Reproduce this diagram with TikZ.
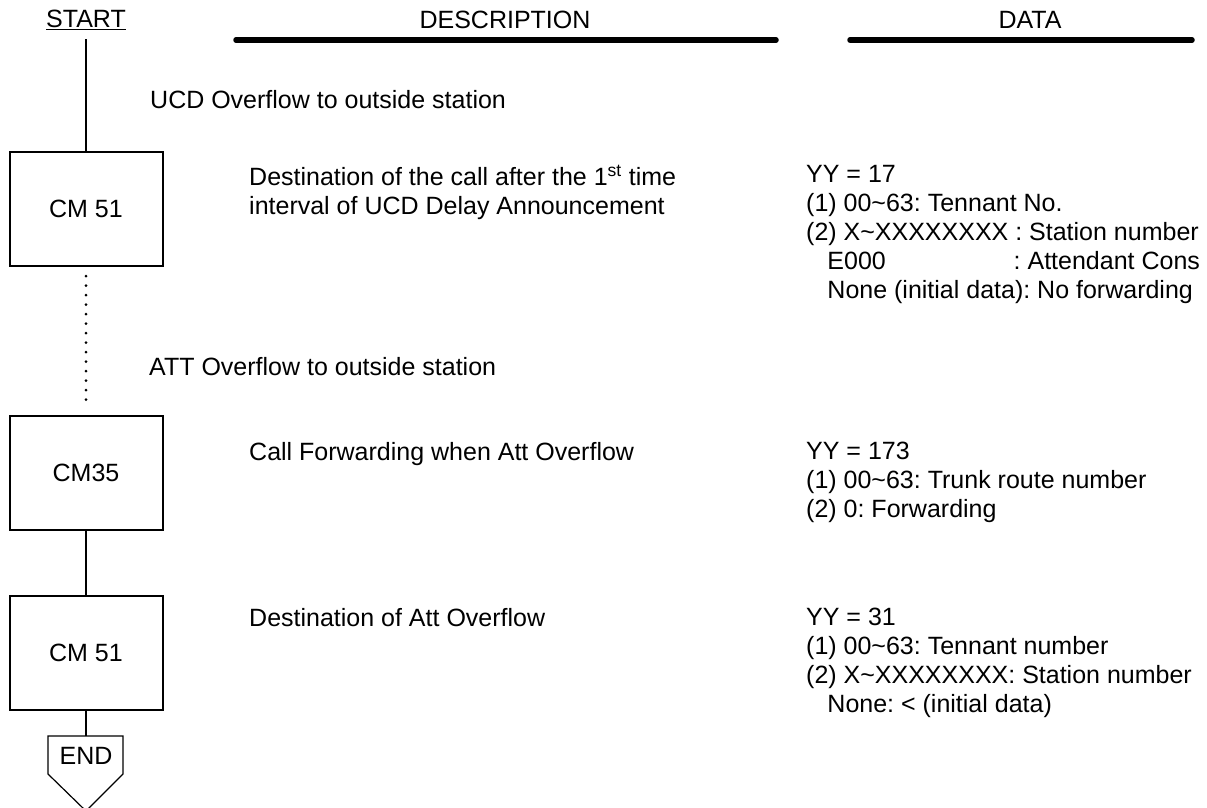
\documentclass[tikz,border=0pt]{standalone}
\usepackage{fontspec}
\setmainfont{Liberation Sans}
\begin{document}
\frenchspacing
\begin{tikzpicture}[x=1pt,y=-1pt,
  txt/.style={anchor=north west,inner sep=0pt,font=\fontsize{25}{29}\selectfont,align=left},
  hdr/.style={inner sep=0pt,font=\fontsize{25}{29}\selectfont},
  cmbox/.style={draw,line width=2pt,minimum width=153pt,minimum height=114pt,inner sep=0pt,font=\fontsize{25}{29}\selectfont},
  conn/.style={line width=2pt},
  dotline/.style={line width=3pt,line cap=round,dash pattern=on 0pt off 9.5pt},
  thick rule/.style={line width=5.5pt,line cap=round}]
\useasboundingbox (0,0) rectangle (1207,807);
% headers
\node[hdr] (start) at (86,20) {\underline{START}};
\node[hdr] (desc) at (505,20) {DESCRIPTION};
\node[hdr] (data) at (1030,20) {DATA};
\coordinate (d1) at (236,40); \coordinate (d2) at (776,40);
\coordinate (e1) at (850,40); \coordinate (e2) at (1192,40);
\draw[thick rule] (d1) -- (d2);
\draw[thick rule] (e1) -- (e2);
\coordinate (top) at (86,39);
% boxes
\node[cmbox] (b1) at (86,209) {CM 51};
\node[cmbox] (b2) at (86,473) {CM35};
\node[cmbox] (b3) at (86,652.5) {CM 51};
\draw[line width=1.8pt] (top) -- (b1.north);
\draw[dotline] ([yshift=-9pt]b1.south) -- ([yshift=7pt]b2.north);
\draw[conn] (b2.south) -- (b3.north);
% END
\node[hdr] (endt) at (86,756) {END};
\coordinate (endtop) at (86,736);
\draw[line width=1.2pt] (48,736) -- (123,736) -- (123,774) -- (86,811) -- (48,774) -- cycle;
\draw[conn] (b3.south) -- (endtop);
% texts
\node[txt,anchor=west] (ucd) at (150,100) {UCD Overflow to outside station};
\node[txt,anchor=west] (att) at (149,367) {ATT Overflow to outside station};
\node[txt] (t1) at (249,165) {Destination of the call after the 1\textsuperscript{st} time\\interval of UCD Delay Announcement};
\node[txt] (v1) at (806,165) {YY = 17\\(1) 00\char`\~63: Tennant No.\\(2) X\char`\~XXXXXXXX : Station number\\\hspace*{0.85em}\makebox[7.45em][l]{E000}: Attendant Cons\\\hspace*{0.85em}None (initial data): No forwarding};
\node[txt] (t2) at (249,442) {Call Forwarding when Att Overflow};
\node[txt] (v2) at (806,442) {YY = 173\\(1) 00\char`\~63: Trunk route number\\(2) 0: Forwarding};
\node[txt] (t3) at (249,608) {Destination of Att Overflow};
\node[txt] (v3) at (806,608) {YY = 31\\(1) 00\char`\~63: Tennant number\\(2) X\char`\~XXXXXXXX: Station number\\\hspace*{0.85em}None: < (initial data)};
\end{tikzpicture}
\end{document}
